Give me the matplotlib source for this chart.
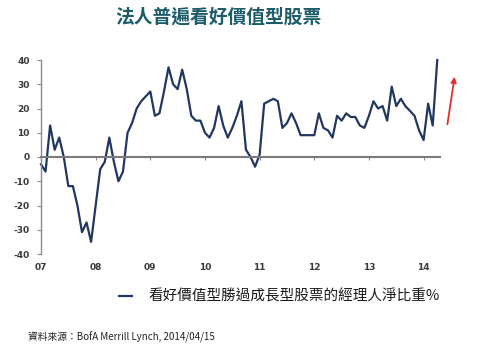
import matplotlib
matplotlib.use('Agg')
from matplotlib import pyplot as plt
import numpy as np

plt.rcParams['font.family'] = ['Noto Sans CJK TC', 'DejaVu Sans']

# monthly net % of managers favouring value over growth, Jan 2007 - Apr 2014
values = [-3, -6, 13, 3, 8, 0, -12, -12, -20, -31, -27, -35,
          -20, -5, -2, 8, -2, -10, -6, 10, 14, 20, 23, 25,
          27, 17, 18, 27, 37, 30, 28, 36, 28, 17, 15, 15,
          10, 8, 12, 21, 13, 8, 12, 17, 23, 3, 0, -4,
          1, 22, 23, 24, 23, 12, 14, 18, 14, 9, 9, 9,
          9, 18, 12, 11, 8, 17, 15, 18, 16.5, 16.5, 13, 12,
          17, 23, 20, 21, 15, 29, 21, 24, 21, 19, 17, 11,
          7, 22, 13, 40]
start_year = 2007
year_labels = ['07', '08', '09', '10', '11', '12', '13', '14']
y_ticks = [40, 30, 20, 10, 0, -10, -20, -30, -40]

title = '法人普遍看好價值型股票'
legend_label = '看好價值型勝過成長型股票的經理人淨比重%'
source = '資料來源：BofA Merrill Lynch, 2014/04/15'

x = start_year + np.arange(len(values)) / 12.0
years = [start_year + i for i in range(len(year_labels))]

fig = plt.figure(figsize=(4.83, 3.52), dpi=100)
ax = fig.add_axes([41 / 483, 1 - 254 / 352, 399 / 483, 194 / 352])

ax.plot(x, values, color='#22375f', lw=1.6, solid_joinstyle='round',
        clip_on=False)

ax.set_xlim(start_year, start_year + 7.3)
ax.set_ylim(-40, 40)

for s in ['top', 'right']:
    ax.spines[s].set_visible(False)
ax.spines['left'].set_color('#8a8a8a')
ax.spines['left'].set_linewidth(1.0)
ax.spines['bottom'].set_position(('data', 0))
ax.spines['bottom'].set_color('#7a7a7a')
ax.spines['bottom'].set_linewidth(1.5)

ax.set_yticks(y_ticks)
ax.set_yticklabels([str(v) for v in y_ticks], fontsize=6.5, color='#3a3a3a',
                   fontweight='bold', family='DejaVu Sans')
ax.tick_params(axis='y', length=3, width=0.8, color='#8a8a8a', pad=5)

ax.set_xticks(years)
ax.set_xticklabels([])
ax.tick_params(axis='x', direction='out', length=2.5, width=0.8, color='#8a8a8a')
for yr, lab in zip(years, year_labels):
    ax.text(yr, -0.07, lab, transform=ax.get_xaxis_transform(), ha='center',
            va='center', fontsize=6.5, color='#3a3a3a', fontweight='bold',
            family='DejaVu Sans')

fig.text(218 / 483, 1 - 17 / 352, title, ha='center', va='center',
         fontsize=13.5, color='#1b5c68', fontweight='bold')

# legend
fig.legend([ax.lines[0]], [legend_label], loc='center left',
           bbox_to_anchor=(106 / 483, 1 - 297 / 352), frameon=False,
           fontsize=10.5, handlelength=0.9, handletextpad=1.1,
           labelcolor='#1a1a1a')

fig.text(28 / 483, 1 - 337 / 352, source, ha='left', va='center',
         fontsize=7, color='#222222')

# red arrow at the right
ax.annotate('', xy=(455 / 483, 1 - 74 / 352), xycoords='figure fraction',
            xytext=(447 / 483, 1 - 127 / 352), textcoords='figure fraction',
            arrowprops=dict(arrowstyle='-|>', color='#e03030', lw=1.3,
                            mutation_scale=8))

fig.savefig('out.png', dpi=100, facecolor='white')
